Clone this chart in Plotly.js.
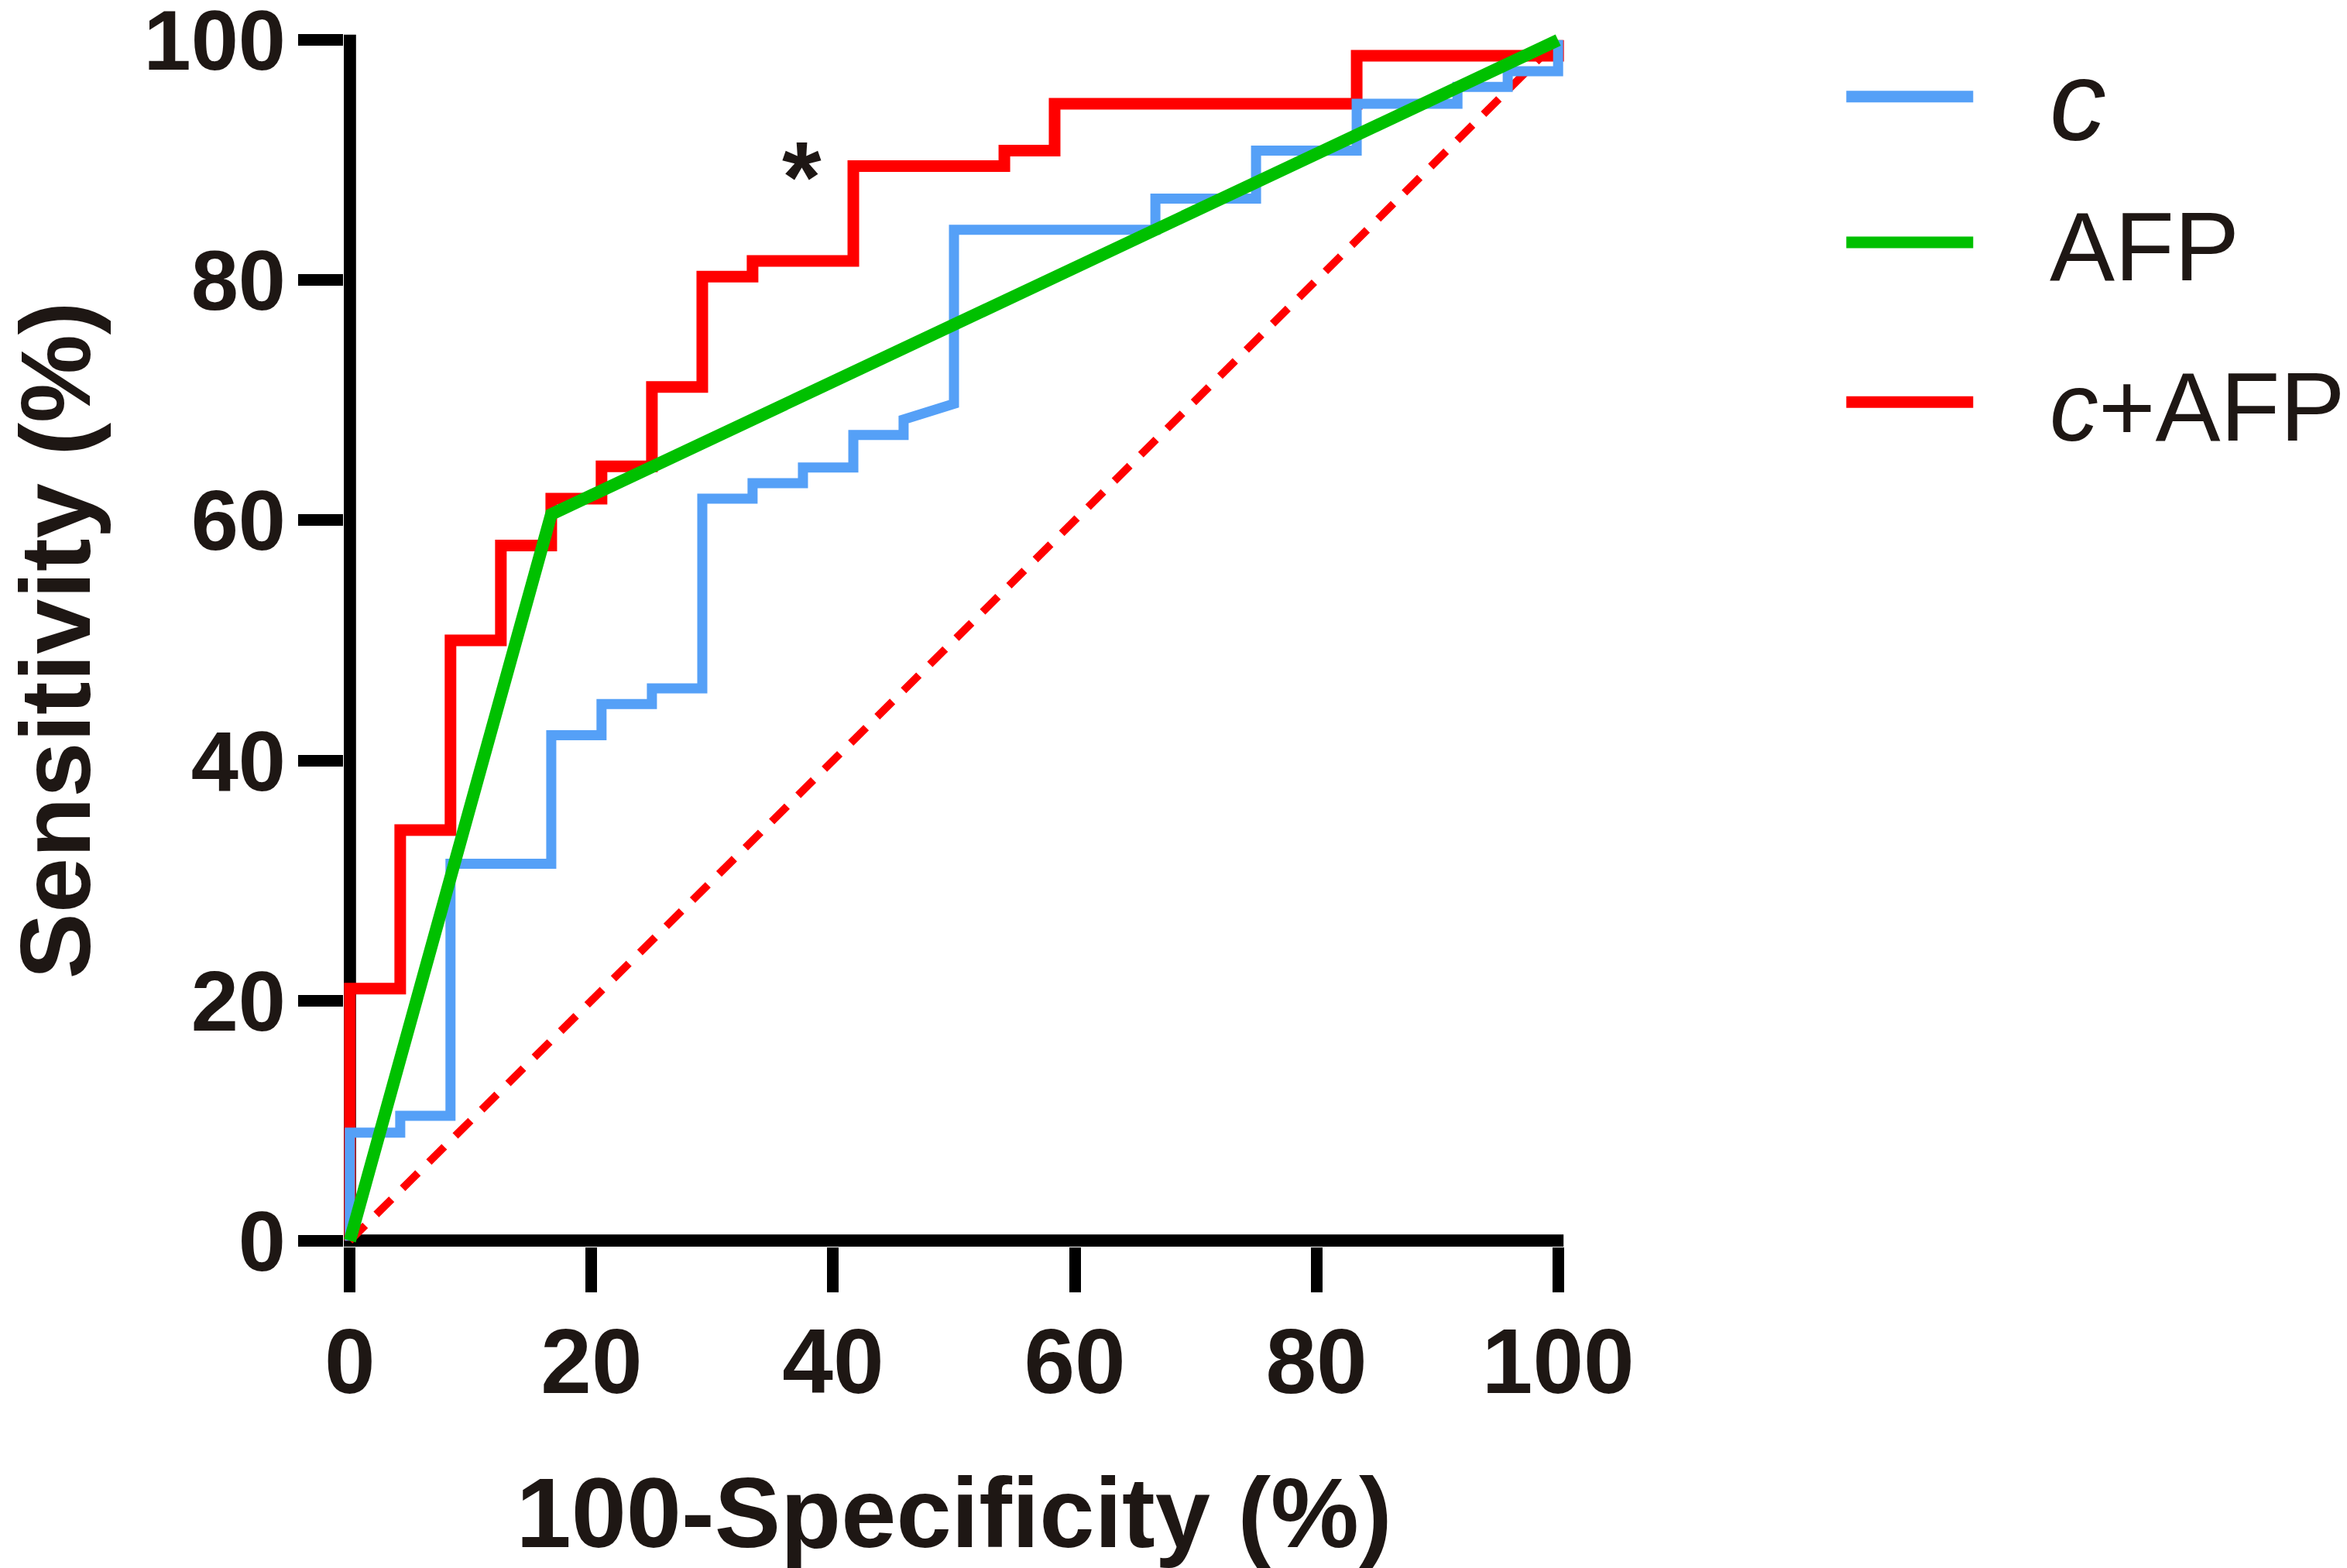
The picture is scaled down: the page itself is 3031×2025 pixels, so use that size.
<!DOCTYPE html>
<html>
<head>
<meta charset="utf-8">
<script src="https://cdn.plot.ly/plotly-3.0.1.min.js"></script>
<style>
  html, body { margin: 0; padding: 0; background: #fff; }
  #roc { width: 3031px; height: 2025px; }
</style>
</head>
<body>
<div id="roc"></div>
<script>
// ROC curves: c, AFP and the combination c+AFP

// c
var cX = [0, 0, 4.17, 4.17, 8.33, 8.33, 16.67, 16.67, 20.83, 20.83, 25, 25, 29.17, 29.17,
          33.33, 33.33, 37.5, 37.5, 41.67, 41.67, 45.83, 45.83, 50, 50, 66.67, 66.67,
          75, 75, 83.33, 83.33, 91.67, 91.67, 95.83, 95.83, 100, 100];
var cY = [0, 9.0, 9.0, 10.4, 10.4, 31.4, 31.4, 42.1, 42.1, 44.7, 44.7, 46.0, 46.0, 61.8,
          61.8, 63.1, 63.1, 64.4, 64.4, 67.1, 67.1, 68.4, 69.7, 84.2, 84.2, 86.8,
          86.8, 90.8, 90.8, 94.7, 94.7, 96.1, 96.1, 97.4, 97.4, 100];

// AFP
var afpX = [0, 16.67, 100];
var afpY = [0, 60.5, 100];

// c+AFP
var comboX = [0, 0, 4.17, 4.17, 8.33, 8.33, 12.5, 12.5, 16.67, 16.67, 20.83, 20.83, 25, 25,
              29.17, 29.17, 33.33, 33.33, 41.67, 41.67, 54.17, 54.17, 58.33, 58.33,
              83.33, 83.33, 100, 100];
var comboY = [0, 21.0, 21.0, 34.2, 34.2, 50.0, 50.0, 57.9, 57.9, 61.8, 61.8, 64.5, 64.5, 71.1,
              71.1, 80.3, 80.3, 81.6, 81.6, 89.5, 89.5, 90.8, 90.8, 94.7,
              94.7, 98.7, 98.7, 100];

// line of identity
var refX = [0, 100];
var refY = [0, 100];

var tickVals = [0, 20, 40, 60, 80, 100];
var seriesNames = ['<span style="font-size:146px"><i>c</i></span>', 'AFP', '<i>c</i>+AFP'];
var seriesColors = ['#55A0F7', '#00C000', '#FF0000'];

var ink = '#1E1714';
var fam = 'Liberation Sans, Arial, sans-serif';

var data = [
    {x: refX, y: refY, mode: 'lines', type: 'scatter',
     line: {color: '#FF0000', width: 10, dash: '28px,20px'}},
    {x: comboX, y: comboY, mode: 'lines', type: 'scatter',
     line: {color: seriesColors[2], width: 15}},
    {x: cX, y: cY, mode: 'lines', type: 'scatter',
     line: {color: seriesColors[0], width: 13}},
    {x: afpX, y: afpY, mode: 'lines', type: 'scatter',
     line: {color: seriesColors[1], width: 16}}
];

// axis lines drawn on the data zero, ticks come from plotly
var shapes = [
    {type: 'line', xref: 'x', yref: 'y', x0: -0.5, x1: 100.45, y0: 0, y1: 0,
     line: {color: '#000', width: 16}, layer: 'below'},
    {type: 'line', xref: 'x', yref: 'y', x0: 0, x1: 0, y0: -0.5, y1: 100.45,
     line: {color: '#000', width: 16}, layer: 'below'}
];

// hand made legend, long samples like the original
var legY = [0.9484, 0.8283, 0.6965];
var annotations = [];
for (var i = 0; i < seriesNames.length; i++) {
    shapes.push({type: 'line', xref: 'paper', yref: 'paper',
                 x0: 1.2312, x1: 1.3352, y0: legY[i], y1: legY[i],
                 line: {color: seriesColors[i], width: 15}});
    annotations.push({xref: 'paper', yref: 'paper', x: 1.3968, y: legY[i], yshift: -6,
                      xanchor: 'left', yanchor: 'middle', showarrow: false,
                      text: seriesNames[i],
                      font: {family: fam, size: 126, color: ink}});
}

annotations.push({xref: 'x', yref: 'y', x: 37.4, y: 89.5, yshift: -14,
                  text: '*', showarrow: false,
                  font: {family: fam, size: 130, color: ink, weight: 'bold'}});

var axisCommon = {
    range: [-0.5, 100.5],
    tickmode: 'array',
    tickvals: tickVals,
    ticktext: tickVals.map(String),
    ticks: 'outside',
    ticklen: 58,
    tickwidth: 15,
    tickcolor: '#000',
    ticklabeloverflow: 'allow',
    showline: false,
    showgrid: false,
    zeroline: false,
    fixedrange: true
};

var layout = {
    width: 3031,
    height: 2025,
    margin: {l: 444, r: 1011, t: 44, b: 415, pad: 0},
    paper_bgcolor: '#fff',
    plot_bgcolor: '#fff',
    showlegend: false,
    xaxis: Object.assign({}, axisCommon, {
        ticklabelstandoff: -12,
        tickfont: {family: fam, size: 118, color: ink, weight: 'bold'},
        title: {text: '100-Specificity (%)', standoff: 111,
                font: {family: fam, size: 128, color: ink, weight: 'bold'}}
    }),
    yaxis: Object.assign({}, axisCommon, {
        ticklabelstandoff: -6,
        tickfont: {family: fam, size: 110, color: ink, weight: 'bold'},
        title: {text: 'Sensitivity (%)', standoff: 120,
                font: {family: fam, size: 128, color: ink, weight: 'bold'}}
    }),
    shapes: shapes,
    annotations: annotations
};

Plotly.newPlot('roc', data, layout, {displayModeBar: false, staticPlot: true});
</script>
</body>
</html>
